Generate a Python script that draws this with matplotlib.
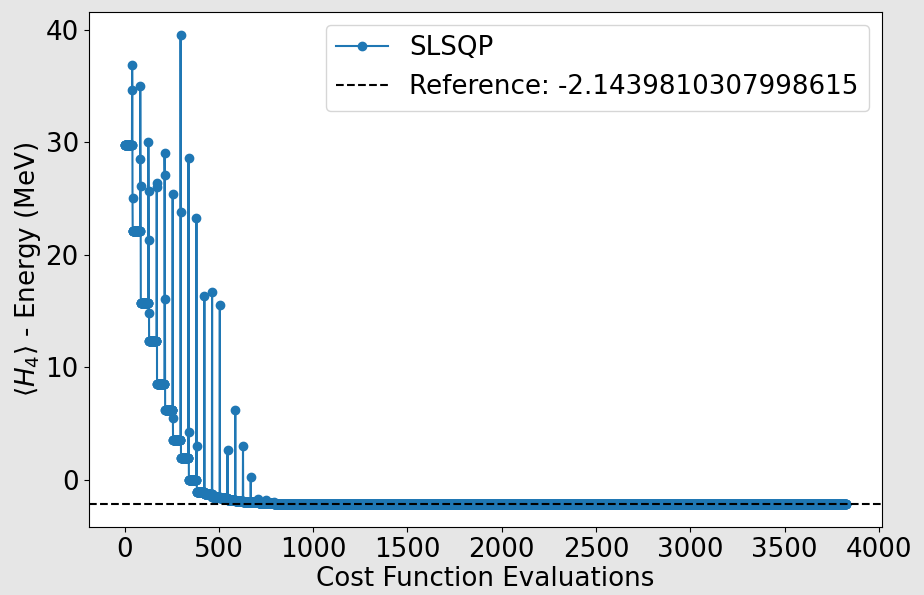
import matplotlib
matplotlib.use("Agg")
import matplotlib.pyplot as plt
import numpy as np

# ---- data ----
reference_energy = -2.1439810307998615
grad_evals_per_iter = 40          # finite-difference plateau length
plateau_levels = [29.75, 22.1, 15.7, 12.35, 8.5, 6.15, 3.55, 1.9, 0.0, -1.07,
                  -1.3, -1.5, -1.65, -1.78, -1.88, -1.96, -2.02, -2.07, -2.11]
linesearch_values = [[36.9, 34.6, 25.0], [35.0, 28.5, 26.1], [30.0, 25.7, 21.3, 14.8],
                     [26.0, 26.4], [29.0, 27.1, 16.1], [25.4, 5.5], [39.5, 23.8],
                     [28.6, 4.2], [23.3, 2.95], [16.3], [16.7], [15.5], [2.6], [6.2],
                     [2.95], [0.2], [-1.76], [-1.8], [-2.0]]
tail_value = -2.1435
tail_count = 3035

# build evaluation sequence
energies = []
for level, ls in zip(plateau_levels, linesearch_values):
    energies.extend([level] * grad_evals_per_iter)
    energies.extend(ls)
energies.extend([tail_value] * tail_count)
evals = np.arange(len(energies))

FS = 18.8
fig = plt.figure(figsize=(9.24, 5.95), dpi=100, facecolor="#e6e6e6")
ax = fig.add_axes([0.0958, 0.114, 0.859, 0.866])
ax.set_facecolor("white")

ax.plot(evals, energies, "-o", color="#1f77b4", label="SLSQP")
ax.axhline(reference_energy, color="black", linestyle="--",
           label="Reference: " + str(reference_energy))

ax.set_xlabel("Cost Function Evaluations", fontsize=FS, labelpad=2)
ax.set_ylabel(r"$\langle H_4 \rangle$ - Energy (MeV)", fontsize=FS, labelpad=2)
ax.tick_params(labelsize=FS)
ax.set_xticks(np.arange(0, 4001, 500))
ax.set_yticks([0, 10, 20, 30, 40])
ax.legend(loc="upper right", fontsize=FS)

fig.savefig("out.png", dpi=100, facecolor=fig.get_facecolor())
